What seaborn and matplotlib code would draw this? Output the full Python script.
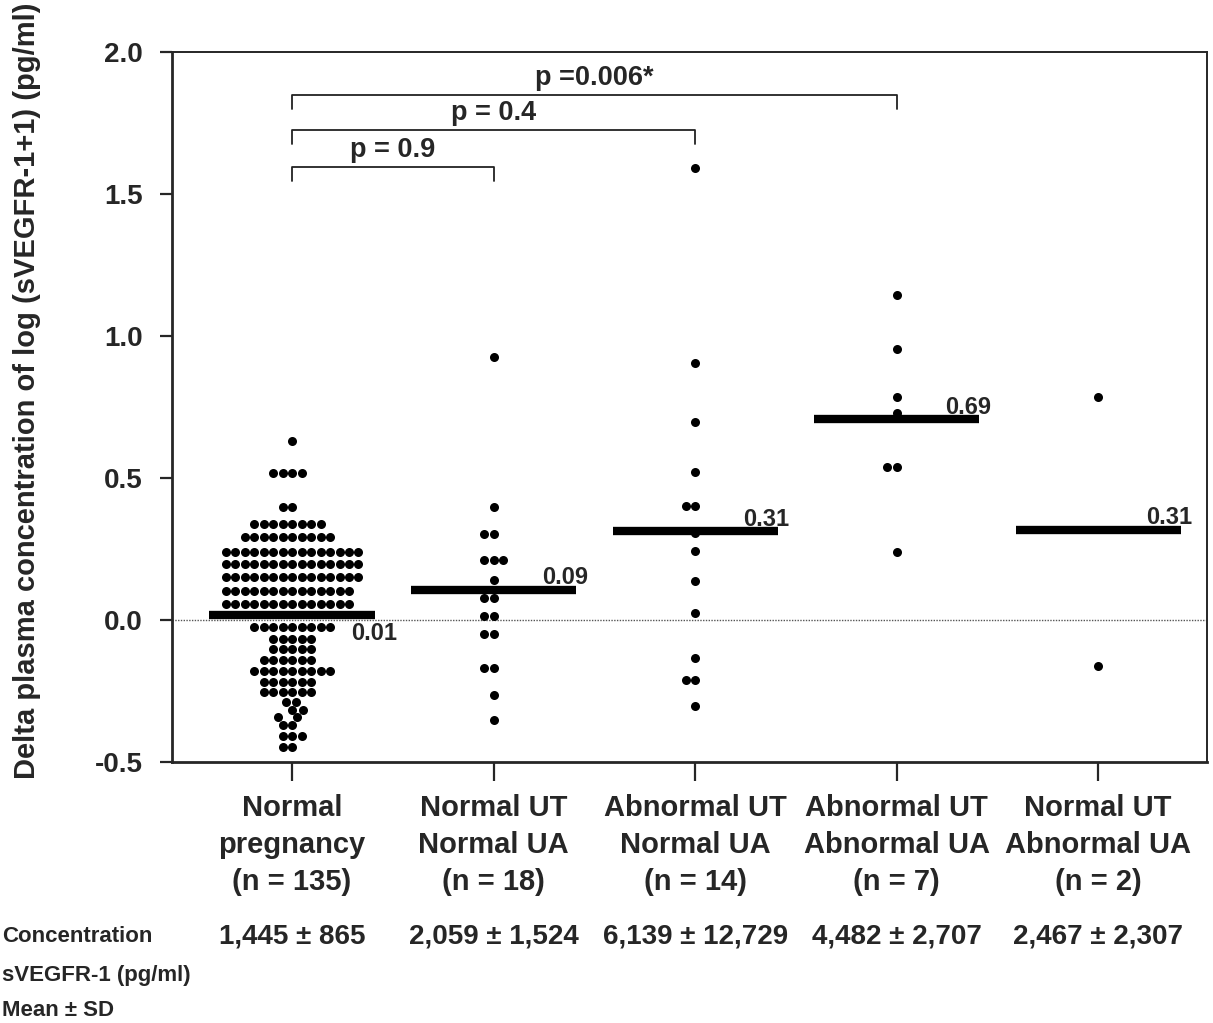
import numpy as np
import pandas as pd
import matplotlib
matplotlib.use("Agg")
import matplotlib.pyplot as plt
import seaborn as sns

# ---------------- data ----------------
groups = ["Normal\npregnancy\n(n = 135)", "Normal UT\nNormal UA\n(n = 18)",
          "Abnormal UT\nNormal UA\n(n = 14)", "Abnormal UT\nAbnormal UA\n(n = 7)",
          "Normal UT\nAbnormal UA\n(n = 2)"]

# Normal pregnancy: row values and number of dots in each row
g1_row_values = [0.631, 0.516, 0.399, 0.338, 0.291, 0.241, 0.197, 0.153, 0.103, 0.056,
                 -0.024, -0.068, -0.103, -0.141, -0.180, -0.217, -0.252, -0.288,
                 -0.317, -0.343, -0.370, -0.407, -0.446]
g1_row_counts = [1, 4, 2, 8, 10, 15, 15, 15, 14, 14,
                 9, 5, 5, 6, 9, 6, 6, 2, 2, 2, 2, 3, 2]
g2_values = [0.925, 0.399, 0.303, 0.303, 0.211, 0.211, 0.211, 0.141, 0.076, 0.076,
             0.014, 0.014, -0.049, -0.049, -0.170, -0.170, -0.264, -0.352]
g3_values = [1.593, 0.906, 0.697, 0.521, 0.400, 0.400, 0.305, 0.244, 0.136, 0.025,
             -0.134, -0.212, -0.212, -0.303]
g4_values = [1.144, 0.954, 0.784, 0.728, 0.540, 0.540, 0.241]
g5_values = [0.784, -0.161]

group_means = [0.018, 0.106, 0.312, 0.707, 0.317]
mean_labels = ["0.01", "0.09", "0.31", "0.69", "0.31"]

conc_labels = ["1,445 ± 865", "2,059 ± 1,524", "6,139 ± 12,729",
               "4,482 ± 2,707", "2,467 ± 2,307"]

comparisons = [1, 2, 3]
p_labels = ["p = 0.9", "p = 0.4", "p =0.006*"]
bracket_y = [1.595, 1.725, 1.849]

y_ticks = [-0.5, 0.0, 0.5, 1.0, 1.5, 2.0]
y_tick_labels = ["-0.5", "0.0", "0.5", "1.0", "1.5", "2.0"]

# ---------------- build table ----------------
g1_values = np.repeat(g1_row_values, g1_row_counts)
all_vals = [g1_values, g2_values, g3_values, g4_values, g5_values]
df = pd.DataFrame({
    "group": np.concatenate([[g] * len(v) for g, v in zip(groups, all_vals)]),
    "value": np.concatenate([np.asarray(v, float) for v in all_vals]),
})

sns.set_style("ticks")
plt.rcParams["font.family"] = ["Liberation Sans", "DejaVu Sans"]
plt.rcParams["font.weight"] = "bold"

W, H = 1213, 1023
fig = plt.figure(figsize=(W / 100, H / 100), dpi=100)
ax = fig.add_axes([172 / W, (H - 762) / H, (1207 - 172) / W, (762 - 52) / H])

ax.set_xlim(-0.596, 4.54)
ax.set_ylim(-0.5, 2.0)

sns.swarmplot(data=df, x="group", y="value", order=groups, color="black",
              size=6.5, linewidth=0, ax=ax, zorder=3)
ax.set_xlim(-0.596, 4.54)
ax.set_ylim(-0.5, 2.0)

# zero reference line
ax.axhline(0, color="#555555", lw=1.0, ls=(0, (1, 1)), zorder=1)

# mean lines
xpos = np.arange(len(groups))
ax.hlines(group_means, xpos - 0.41, xpos + 0.41, colors="black", lw=6, zorder=4)
for i, (m, lab) in enumerate(zip(group_means, mean_labels)):
    if i == 0:
        ax.text(i + 0.52, m - 0.025, lab, ha="right", va="top", fontsize=17,
                fontweight="bold")
    else:
        ax.text(i + 0.467, m + 0.02, lab, ha="right", va="baseline", fontsize=17,
                fontweight="bold")

# significance brackets
for j, lab, yb in zip(comparisons, p_labels, bracket_y):
    ax.plot([0, 0, j, j], [yb - 0.05, yb, yb, yb - 0.05], color="#222222", lw=1.3,
            zorder=2)
    ax.text(j / 2, yb + 0.06, lab, ha="center", va="center", fontsize=19.5,
            fontweight="bold")

# axes styling
ax.set_yticks(y_ticks)
ax.set_yticklabels(y_tick_labels, fontsize=20, fontweight="bold")
ax.tick_params(axis="y", length=9, width=1.6, pad=12, direction="out")
ax.set_xticks(xpos)
ax.set_xticklabels(groups, fontsize=21, fontweight="bold", linespacing=1.4)
ax.tick_params(axis="x", length=14, width=1.6, pad=9, direction="out")
ax.set_xlabel("")
ax.set_ylabel("")
for side in ["left", "bottom"]:
    ax.spines[side].set_linewidth(2.0)
for side in ["top", "right"]:
    ax.spines[side].set_visible(True)
    ax.spines[side].set_linewidth(1.4)

# y label
fig.text(27 / W, 0.998, "Delta plasma concentration of log (sVEGFR-1+1) (pg/ml)",
         rotation=90, ha="center", va="top", fontsize=21, fontweight="bold")

# concentration row
for i, lab in enumerate(conc_labels):
    ax.text(i, (762 - 937) / 710, lab, transform=ax.get_xaxis_transform(),
            ha="center", va="center", fontsize=20, fontweight="bold")

left_lines = [("Concentration", 937), ("sVEGFR-1 (pg/ml)", 975), ("Mean ± SD", 1010)]
for txt, yc in left_lines:
    fig.text(2 / W, 1 - yc / H, txt, ha="left", va="center", fontsize=16,
             fontweight="bold")

fig.savefig("out.png", dpi=100)
